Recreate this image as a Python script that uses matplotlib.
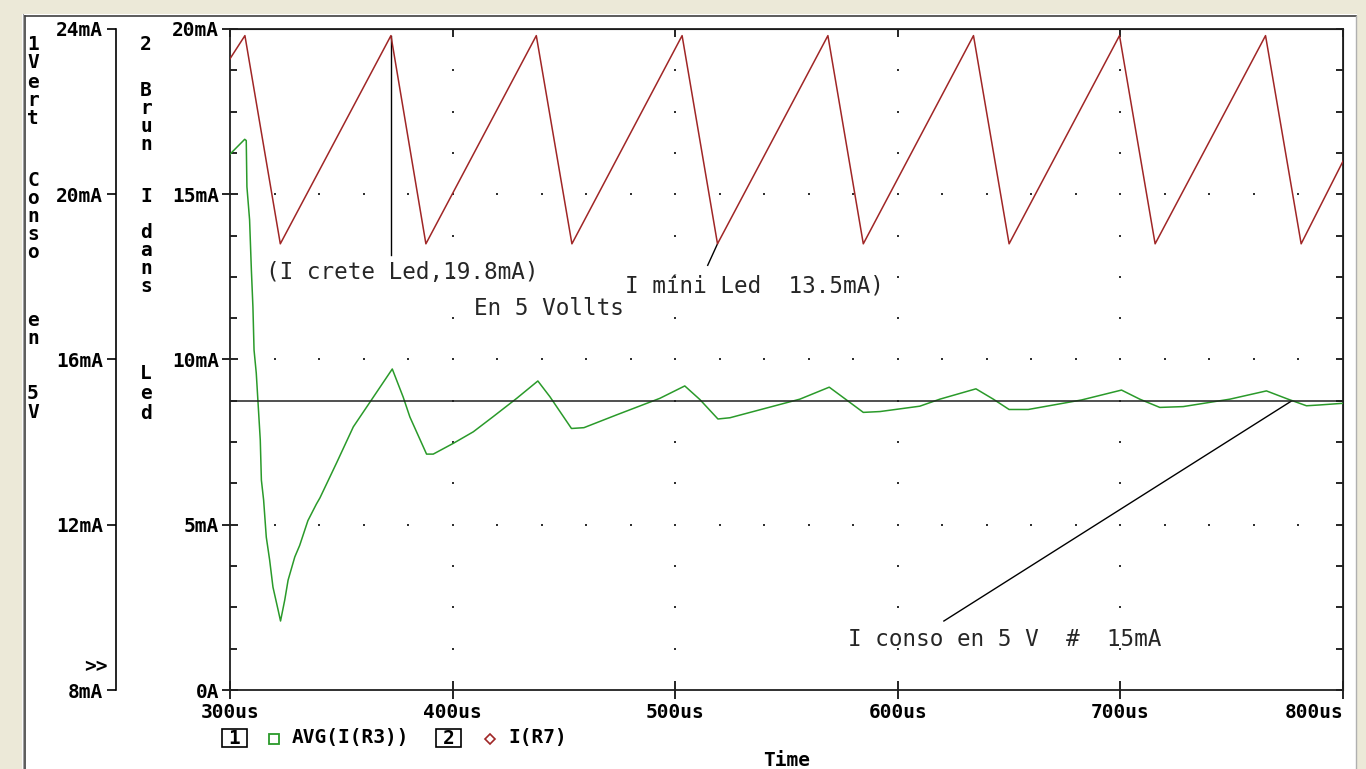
import matplotlib
matplotlib.use("Agg")
import matplotlib.pyplot as plt
from matplotlib.lines import Line2D
from matplotlib.patches import Rectangle
import numpy as np

# --- trace data (time in us, current in mA) ---
avg_t = [300.0, 306.6, 307.3, 307.6, 308.8, 309.6, 310.3, 310.8, 311.8, 312.6,
         313.6, 314.1, 315.1, 316.3, 317.8, 319.3, 321.6, 322.7, 324.6, 326.1,
         329.1, 331.3, 335.0, 338.8, 340.4, 347.9, 355.4, 364.4, 372.9, 377.8,
         380.8, 388.3, 391.3, 400.3, 409.3, 418.3, 428.8, 438.3, 443.7, 453.4,
         459.0, 473.7, 493.1, 504.3, 511.1, 519.2, 524.6, 556.0, 569.2, 577.0,
         584.5, 592.0, 609.9, 618.9, 635.1, 642.9, 650.0, 658.6, 682.5, 700.5,
         708.7, 717.7, 728.2, 749.2, 765.6, 775.3, 783.6, 789.6, 800.0]
avg_ma = [20.97, 21.33, 21.30, 20.18, 19.38, 18.17, 17.27, 16.23, 15.67, 14.95,
          14.05, 13.08, 12.60, 11.70, 11.15, 10.49, 9.94, 9.67, 10.18, 10.66,
          11.22, 11.50, 12.10, 12.50, 12.65, 13.50, 14.37, 15.09, 15.77, 15.09,
          14.61, 13.71, 13.71, 13.97, 14.25, 14.62, 15.06, 15.48, 15.10, 14.33,
          14.35, 14.66, 15.06, 15.36, 15.03, 14.56, 14.59, 15.04, 15.33, 15.02,
          14.72, 14.74, 14.87, 15.04, 15.29, 15.04, 14.79, 14.79, 15.02, 15.26,
          15.04, 14.84, 14.86, 15.04, 15.24, 15.04, 14.88, 14.90, 14.94]

led_t = [300.0, 306.7, 322.6, 372.3, 388.0, 437.6, 453.6, 503.1, 519.0,
         568.6, 584.5, 634.0, 650.0, 699.6, 715.6, 765.2, 781.2, 800.0]
led_ma = [19.1, 19.8, 13.5, 19.8, 13.5, 19.8, 13.5, 19.8, 13.5,
          19.8, 13.5, 19.8, 13.5, 19.8, 13.5, 19.8, 13.5, 16.0]

conso_ma = 15.0      # horizontal marker on axis 1
crete_ma = 19.8
mini_ma = 13.5

x_ticks = [300, 400, 500, 600, 700, 800]
x_labels = ["300us", "400us", "500us", "600us", "700us", "800us"]
y1_ticks = [8, 12, 16, 20, 24]
y1_labels = ["8mA", "12mA", "16mA", "20mA", "24mA"]
y2_ticks = [0, 5, 10, 15, 20]
y2_labels = ["0A", "5mA", "10mA", "15mA", "20mA"]

W, H = 1366, 769
GREEN = "#2a9a2a"
BROWN = "#a02626"
BEIGE = "#ece9d8"
MONO = "DejaVu Sans Mono"


def fx(x):
    return x / W


def fy(y):
    return 1 - y / H


fig = plt.figure(figsize=(W / 100, H / 100), dpi=100, facecolor="white")

# window frame
for r in [(0, 0, fx(22), 1), (0, fy(14), 1, 1 - fy(14)), (fx(1357), 0, 1 - fx(1357), 1)]:
    fig.add_artist(Rectangle(r[:2], r[2], r[3], transform=fig.transFigure,
                             fc=BEIGE, ec="none", zorder=-5))
fig.add_artist(Line2D([fx(22.5), fx(22.5)], [0, fy(14)], color="#a0a0a0", lw=0.8,
                      transform=fig.transFigure))
fig.add_artist(Line2D([fx(24.5), fx(24.5)], [0, fy(15.5)], color="#404040", lw=1.2,
                      transform=fig.transFigure))
fig.add_artist(Line2D([fx(24.5), fx(1356)], [fy(15.5), fy(15.5)], color="#404040", lw=1.2,
                      transform=fig.transFigure))
fig.add_artist(Line2D([fx(1356), fx(1356)], [0, fy(15.5)], color="#b0b0b0", lw=1.0,
                      transform=fig.transFigure))

rect = [fx(230), fy(690), (1343 - 230) / W, (690 - 29) / H]
ax2 = fig.add_axes(rect)
ax2.set_xlim(300, 800)
ax2.set_ylim(0, 20)
ax2.set_facecolor("none")
for s in ax2.spines.values():
    s.set_linewidth(1.3)
    s.set_color("#202020")

tick_font = dict(family=MONO, weight="bold", size=14)

ax2.set_xticks(x_ticks)
ax2.set_xticklabels(x_labels, **tick_font)
ax2.get_xticklabels()[-1].set_horizontalalignment("right")
ax2.tick_params(axis="x", direction="inout", length=13, width=1.2, pad=3)
ax2.set_yticks(y2_ticks)
ax2.set_yticklabels(y2_labels, **tick_font)
ax2.set_yticks(np.arange(0, 20.01, 1.25), minor=True)
ax2.tick_params(axis="y", which="major", direction="inout", length=11.5, width=1.2, pad=2)
ax2.tick_params(axis="y", which="minor", direction="in", length=5, width=1.2)

# top and right ticks point inward only
top = ax2.secondary_xaxis("top")
top.set_xticks(x_ticks)
top.tick_params(direction="in", length=6, width=1.2, labeltop=False)
right = ax2.secondary_yaxis("right")
right.set_yticks(np.arange(0, 20.01, 1.25))
right.tick_params(direction="in", length=5, width=1.2, labelright=False)

# dotted grid
gx = np.arange(320, 800, 20)
for yv in (5, 10, 15):
    ax2.plot(gx, [yv] * len(gx), ls="none", marker="s", ms=1.5, color="#303030", mew=0)
gy = np.arange(1.25, 20, 1.25)
for xv in (400, 500, 600, 700):
    ax2.plot([xv] * len(gy), gy, ls="none", marker="s", ms=1.5, color="#303030", mew=0)

ax2.plot(led_t, led_ma, color=BROWN, lw=1.1, zorder=3)

# axis 1 (green trace), spine pulled to the left
ax1 = ax2.twinx()
ax1.set_ylim(8, 24)
ax1.set_facecolor("none")
ax1.yaxis.tick_left()
ax1.spines["left"].set_position(("axes", (116 - 230) / 1113))
ax1.spines["left"].set_linewidth(1.2)
for k in ("right", "top", "bottom"):
    ax1.spines[k].set_visible(False)
ax1.set_yticks(y1_ticks)
ax1.set_yticklabels(y1_labels, **tick_font)
ax1.tick_params(axis="y", direction="out", length=6.5, width=1.2, pad=3)

ax1.plot(avg_t, avg_ma, color=GREEN, lw=1.1, zorder=3)
ax1.axhline(conso_ma, color="#202020", lw=1.1, zorder=4)

# annotation pointers
ax2.plot([led_t[3], led_t[3]], [crete_ma, 13.15], color="black", lw=1.0)
ax2.plot([514.6, led_t[8]], [12.85, mini_ma], color="black", lw=1.0)
ax1.plot([620.7, 777.0], [9.67, conso_ma], color="black", lw=1.0)

note_font = dict(family=MONO, size=16.3, color="#262626", va="center", ha="left")
fig.text(fx(266), fy(272), "(I crete Led,19.8mA)", **note_font)
fig.text(fx(474), fy(308), "En 5 Vollts", **note_font)
fig.text(fx(625), fy(287), "I míni Led  13.5mA)", **note_font)
fig.text(fx(848), fy(640), "I conso en 5 V  #  15mA", **note_font)

# vertical axis titles, one character per row
col_font = dict(family=MONO, weight="bold", size=14, ha="center", va="center")
col1 = [("1", 44), ("V", 63), ("e", 82), ("r", 100), ("t", 119),
        ("C", 180), ("o", 198), ("n", 216), ("s", 234), ("o", 252),
        ("e", 320), ("n", 338), ("5", 394), ("V", 412)]
col2 = [("2", 45), ("B", 91), ("r", 109), ("u", 127), ("n", 145),
        ("I", 196), ("d", 232), ("a", 250), ("n", 268), ("s", 286),
        ("L", 374), ("e", 394), ("d", 414)]
for ch, yy in col1:
    fig.text(fx(33), fy(yy), ch, **col_font)
for ch, yy in col2:
    fig.text(fx(146), fy(yy), ch, **col_font)

fig.text(fx(96), fy(667), ">>", **col_font)

# legend row
leg_font = dict(family=MONO, weight="bold", size=14, va="center")
for x0, num in ((221.5, "1"), (436, "2")):
    fig.add_artist(Rectangle((fx(x0), fy(747)), 25 / W, 18 / H, transform=fig.transFigure,
                             fc="white", ec="black", lw=1.2))
    fig.text(fx(x0 + 12.5), fy(738), num, ha="center", **leg_font)
fig.add_artist(Line2D([fx(274)], [fy(739)], marker="s", ms=6.5, mfc="none", mec=GREEN,
                      mew=1.3, transform=fig.transFigure))
fig.text(fx(292), fy(738), "AVG(I(R3))", ha="left", **leg_font)
fig.add_artist(Line2D([fx(490)], [fy(739)], marker="D", ms=5.5, mfc="none", mec=BROWN,
                      mew=1.2, transform=fig.transFigure))
fig.text(fx(508), fy(738), "I(R7)", ha="left", **leg_font)

fig.text(fx(786.5), fy(760), "Time", ha="center", **leg_font)

fig.savefig("out.png", dpi=100, facecolor="white")
